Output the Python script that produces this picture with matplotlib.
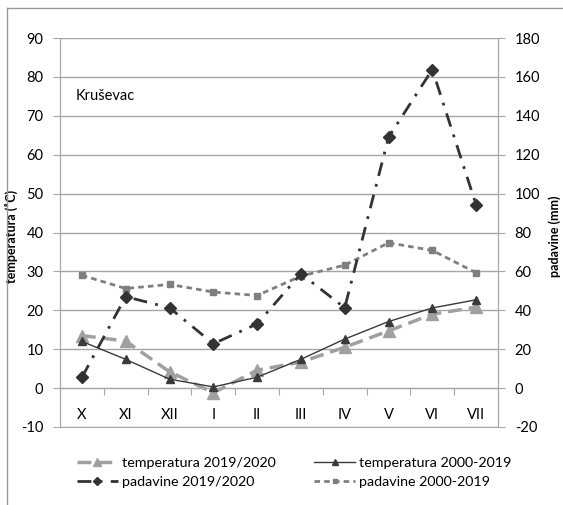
import numpy as np
import matplotlib
matplotlib.use('Agg')
import matplotlib.pyplot as plt
from matplotlib.lines import Line2D

plt.rcParams['font.family'] = ['Lato', 'DejaVu Sans']
plt.rcParams['axes.unicode_minus'] = False

months = ['X', 'XI', 'XII', 'I', 'II', 'III', 'IV', 'V', 'VI', 'VII']
temp_1920 = [13.5, 12.1, 4.2, -1.2, 4.6, 6.7, 10.5, 14.7, 19.0, 20.8]
temp_0019 = [12.0, 7.4, 2.3, 0.3, 2.8, 7.4, 12.6, 17.1, 20.6, 22.7]
rain_1920 = [5.5, 47.0, 41.3, 22.8, 33.0, 58.8, 41.3, 128.9, 163.8, 94.2]
rain_0019 = [58.0, 51.2, 53.3, 49.4, 47.6, 57.6, 63.2, 74.7, 70.8, 59.3]

W, H = 563, 505
fig = plt.figure(figsize=(W / 100, H / 100), dpi=100)
ax = fig.add_axes([60 / W, (H - 427) / H, (498 - 60) / W, (427 - 38) / H])
ax2 = ax.twinx()

x = np.arange(len(months))
grid_c = '#a6a6a6'

# horizontal gridlines
ax.set_ylim(-10, 90)
ax.set_yticks(np.arange(-10, 91, 10))
ax.grid(axis='y', color=grid_c, lw=1)
ax.set_axisbelow(True)
ax2.set_ylim(-20, 180)
ax2.set_yticks(np.arange(-20, 181, 20))
ax.set_xlim(-0.5, len(months) - 0.5)

l1, = ax.plot(x, temp_1920, color='#a0a0a0', lw=2.5, ls=(0, (4, 2)),
              marker='^', ms=8, label='temperatura 2019/2020', zorder=3)
l2, = ax.plot(x, temp_0019, color='#3a3a3a', lw=1, ls='-',
              marker='^', ms=6, label='temperatura 2000-2019', zorder=4)
l3, = ax2.plot(x, rain_1920, color='#333333', lw=2, ls=(0, (5, 3, 1, 3)),
               marker='D', ms=6, label='padavine 2019/2020', zorder=4)
l4, = ax2.plot(x, rain_0019, color='#7f7f7f', lw=2, ls=(0, (2, 1.5)),
               marker='s', ms=5, label='padavine 2000-2019', zorder=3)

# spines
for a in (ax, ax2):
    for s in a.spines.values():
        s.set_color(grid_c)
    a.spines['top'].set_visible(False)
ax.spines['bottom'].set_position(('data', 0))

ax.set_xticks(x[:-1] + 0.5)
ax.set_xticklabels([])
ax.set_xticks(x, minor=True)
ax.set_xticklabels(months, minor=True, fontsize=10.5)
ax.tick_params(axis='x', which='major', direction='out', length=5, color=grid_c)
ax.tick_params(axis='x', which='minor', length=0, pad=14)
ax.tick_params(axis='y', direction='out', length=5, color=grid_c, pad=7, labelsize=10.5)
ax2.tick_params(axis='y', direction='out', length=5, color=grid_c, pad=7, labelsize=10.5)

ax.set_ylabel('temperatura (˚C)', fontsize=9, fontweight='bold')
ax.yaxis.set_label_coords((18 - 60) / 438, 0.49)
ax2.set_ylabel('padavine (mm)', fontsize=9, fontweight='bold')
ax2.yaxis.set_label_coords((548 - 60) / 438, 0.49)

ax.text(76 / W, (H - 96) / H, 'Kruševac', transform=fig.transFigure,
        fontsize=10.5, va='center', ha='left')

fig.legend([l1, l3, l2, l4], [l1.get_label(), l3.get_label(), l2.get_label(), l4.get_label()],
           ncol=2, loc='center', bbox_to_anchor=(294 / W, (H - 472.5) / H),
           frameon=False, fontsize=10.3, handlelength=2.9, handletextpad=0.25,
           columnspacing=2.7, labelspacing=0.45, markerscale=0.65)

# page frame
fig.add_artist(Line2D([7 / W, 7 / W], [0, (H - 8) / H], color='#999999', lw=1))
fig.add_artist(Line2D([7 / W, 1], [(H - 8) / H, (H - 8) / H], color='#999999', lw=1))

fig.savefig('out.png', dpi=100)
